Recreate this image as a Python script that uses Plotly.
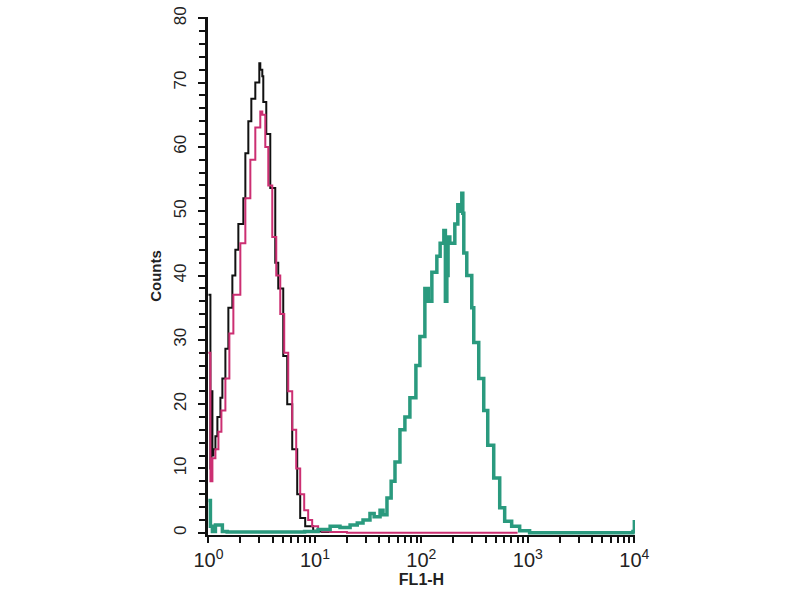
import plotly.graph_objects as go

# FL1-H channel values and counts
black_x = [1.0, 1.044, 1.067, 1.09, 1.114, 1.163, 1.214, 1.296, 1.352, 1.443, 1.539, 1.678, 1.79, 1.91,
           2.128, 2.222, 2.37, 2.529, 2.756, 3.005, 3.07, 3.206, 3.275, 3.494, 3.809, 4.243, 4.526,
           5.042, 5.495, 6.122, 6.82, 7.275, 8.105, 9.63, 10.72, 11.69, 13.9]
black_y = [37, 10, 22, 12, 13, 15, 18, 21, 24, 28.6, 35, 40, 44, 48,
           52, 59, 64, 67.5, 70, 73, 72, 71, 67, 62, 53.6, 42, 38,
           27.5, 20, 13, 6, 2.3, 1, 0.3, 0.2, 0.1, 0]

magenta_x = [1.0, 1.044, 1.09, 1.163, 1.241, 1.324, 1.443, 1.573, 1.715, 1.994, 2.222, 2.475, 2.756,
             3.07, 3.206, 3.42, 3.648, 3.977, 4.335, 4.727, 5.151, 5.616, 6.122, 6.674, 7.275, 7.932,
             8.646, 9.424, 10.72, 11.69, 13.9, 20, 100, 800]
magenta_y = [28, 8, 11.6, 13, 15.7, 19, 24, 31, 37, 45, 52, 58, 63,
             65.5, 65, 60, 54, 46, 40, 34, 28, 22, 16, 10, 6, 3.5,
             2, 1, 0.5, 0.2, 0.1, 0, 0, 0]

green_x = [1.0, 1.044, 1.09, 1.163, 1.296, 1.352, 1.5, 3.0, 8.0, 10.7, 13.9, 17.2, 21.4, 25.0, 28.3,
           32.9, 36.0, 40.9, 43.6, 47.5, 52.0, 56.5, 62.9, 70.0, 78.0, 88.8, 96.8, 107.8, 116.0,
           125.4, 139.7, 150.0, 162.5, 168.0, 173.4, 178.0, 184.9, 206.0, 219.8, 232.0, 239.6,
           244.8, 250.1, 266.8, 297.2, 310.3, 345.6, 385.0, 419.8, 477.8, 543.8, 605.6, 704.4,
           837.0, 1038.0, 5000.0, 9700.0, 10000.0]
green_y = [5, 1, 0.2, 1.2, 1.2, 0.2, 0.1, 0.1, 0.2, 0.5, 1, 0.8, 1.2, 1.5, 2,
           3, 2.5, 3.5, 2.8, 5.4, 8, 11, 16, 18, 21, 26, 30.5, 38, 36,
           40.5, 43, 45, 47, 36, 40, 46, 45, 48, 51, 50, 52.8,
           49.7, 43.5, 40, 35, 29.6, 24, 19, 13.6, 8.5, 3.9, 1.8, 1,
           0.3, 0, 0, 0.2, 2]

y_ticks = [0, 10, 20, 30, 40, 50, 60, 70, 80]
x_ticks = [m * 10 ** k for k in range(4) for m in range(1, 10)] + [10000]
x_labels = ["10<sup>%d</sup>" % k if m == 1 else "" for k in range(4) for m in range(1, 10)] + ["10<sup>4</sup>"]

fig = go.Figure()
fig.add_trace(go.Scatter(x=black_x, y=black_y, mode="lines", line=dict(color="#111111", width=2, shape="hv")))
fig.add_trace(go.Scatter(x=magenta_x, y=magenta_y, mode="lines", line=dict(color="#cc2f72", width=2, shape="hv")))
fig.add_trace(go.Scatter(x=green_x, y=green_y, mode="lines", line=dict(color="#2a9a7e", width=3.5, shape="hv")))

fam = "Arial, Liberation Sans, sans-serif"
fig.update_layout(
    width=800, height=600,
    margin=dict(l=208, r=165, t=17, b=65),
    paper_bgcolor="white", plot_bgcolor="white",
    showlegend=False,
    font=dict(family=fam, color="#222222"),
    xaxis=dict(type="log", range=[-0.004, 4.006], tickvals=x_ticks, ticktext=x_labels,
               automargin=False,
               ticks="outside", ticklen=6, tickwidth=2, tickcolor="#111",
               showline=True, linecolor="#111", linewidth=2, showgrid=False, zeroline=False,
               tickfont=dict(size=20, family=fam, color="#222"),
               title=dict(text="<b>FL1-H</b>", font=dict(size=16, family=fam, color="#222"), standoff=0)),
    yaxis=dict(range=[-0.35, 80.2], tickvals=y_ticks, tickangle=-90,
               automargin=False, ticklabelstandoff=5,
               ticks="outside", ticklen=7, tickwidth=2, tickcolor="#111",
               minor=dict(dtick=2, ticks="outside", ticklen=6, tickwidth=2, tickcolor="#111", showgrid=False),
               showline=True, linecolor="#111", linewidth=3, showgrid=False, zeroline=False,
               tickfont=dict(size=17, family=fam, color="#222"),
               title=dict(text="<b>Counts</b>", font=dict(size=15, family=fam, color="#222"), standoff=6)),
)

fig.write_html("out.html", config={"displayModeBar": False},
               post_script="document.body.style.margin='0';document.body.style.overflow='hidden';")
